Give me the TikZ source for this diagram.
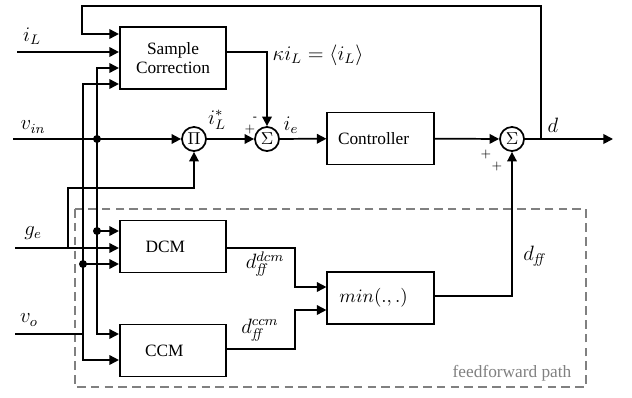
\documentclass[tikz,border=0pt]{standalone}
\usepackage[no-math]{fontspec}
\setmainfont{Liberation Serif}
\usetikzlibrary{arrows.meta,calc}
\definecolor{ffgray}{RGB}{128,128,128}
\begin{document}
\begin{tikzpicture}[x=0.578pt,y=-0.578pt,
  line width=1pt,
  arr/.style={-{Triangle[length=5.5pt,width=5.5pt]}},
  blk/.style={draw,rectangle,minimum width=61.5pt,minimum height=30pt,inner sep=1pt},
  summer/.style={draw,circle,minimum size=13.9pt,inner sep=0pt},
  sgn/.style={font=\scriptsize,inner sep=0pt},
  lbl/.style={font=\large,inner sep=1pt},
  dotc/.style={circle,fill,inner sep=0pt,minimum size=4.6pt}]
\useasboundingbox (0,0) rectangle (632,397);
% dashed feedforward region
\draw[ffgray,dash pattern=on 5pt off 3pt] (75,209) rectangle (586,387);
\node[ffgray,anchor=east] (fflbl) at (578,373) {feedforward path};
% blocks
\node[blk,minimum height=35.8pt,align=center] (sc) at (173,58) {Sample\\[-1pt]Correction};
\node[blk] (ctrl) at (380.5,138.5) {Controller\hspace*{8pt}};
\node[blk] (dcm) at (173,246.5) {DCM\hspace*{9pt}};
\node[blk] (ccm) at (173,350.5) {CCM\hspace*{10pt}};
\node[blk,font=\fontsize{11}{13}\selectfont] (mn) at (380.5,298) {$min(.,.)$\hspace*{8pt}};
\node[summer] (pi) at (194,139) {$\Pi$};
\node[summer] (s1) at (267,139) {$\Sigma$};
\node[summer] (s2) at (512,139) {$\Sigma$};
% free ends
\coordinate (iLin) at (17,52);
\coordinate (vin) at (13,139);
\coordinate (ge) at (15,248);
\coordinate (vo) at (15,334);
\coordinate (vj) at (83,334);
\coordinate (gj) at (68,248);
\coordinate (fb) at (541,139);
\coordinate (dout) at (613,139);
\node[dotc] (dA) at (97,139) {};
\node[dotc] (dB) at (97,231) {};
\node[dotc] (dC) at (83,264) {};
% input labels
\node[lbl] (liL) at (32,36) {$i_L$};
\node[lbl] (lvin) at (33,127) {$v_{in}$};
\node[lbl] (lge) at (33,233) {$g_e$};
\node[lbl] (lvo) at (29,320) {$v_o$};
% connectors
\draw[arr] (iLin) -- (sc.west |- 0,52);
\draw[arr] (fb) |- (82,6) |- (sc.west |- 0,34);
\draw[arr] (vin) -- (pi);
\draw[arr] (dA.center) |- (sc.west |- 0,68);
\draw[arr] (dA.center) |- (ccm.west |- 0,334);
\draw[arr] (dB.center) -- (dcm.west |- 0,231);
\draw (vo) -- (vj);
\draw[arr] (vj) |- (sc.west |- 0,84);
\draw[arr] (vj) |- (ccm.west |- 0,360);
\draw[arr] (dC.center) -- (dcm.west |- 0,264);
\draw[arr] (ge) -- (dcm.west |- 0,248);
\draw[arr] (gj) -- (68,188) -| (pi);
\draw[arr] (sc.east |- 0,52) -| (s1);
\draw[arr] (pi) -- (s1);
\draw[arr] (s1) -- (ctrl);
\draw[arr] (ctrl) -- (s2);
\draw[arr] (s2) -- (dout);
\draw[arr] (dcm.east |- 0,248) -| (295,287) -- (mn.west |- 0,287);
\draw[arr] (ccm.east |- 0,349) -| (295,310) -- (mn.west |- 0,310);
\draw[arr] (mn.east |- 0,296) -| (s2);
% signal labels
\node[lbl] (lk) at (318,55) {$\kappa i_L=\langle i_L\rangle$};
\node[lbl] (lis) at (217,120) {$i_L^*$};
\node[lbl] (lie) at (291,125) {$i_e$};
\node[lbl] (ld) at (553,125) {$d$};
\node[lbl] (ldff) at (535,256) {$d_{\mathit{ff}}$};
\node[lbl] (ldcm) at (265,264) {$d_{\mathit{ff}}^{dcm}$};
\node[lbl] (lccm) at (260,330) {$d_{\mathit{ff}}^{ccm}$};
% signs
\node[sgn] (p1) at (250,129) {$+$};
\node[sgn] (m1) at (255,119) {-};
\node[sgn] (p2) at (486,154) {$+$};
\node[sgn] (p3) at (497,166) {$+$};
\end{tikzpicture}
\end{document}
